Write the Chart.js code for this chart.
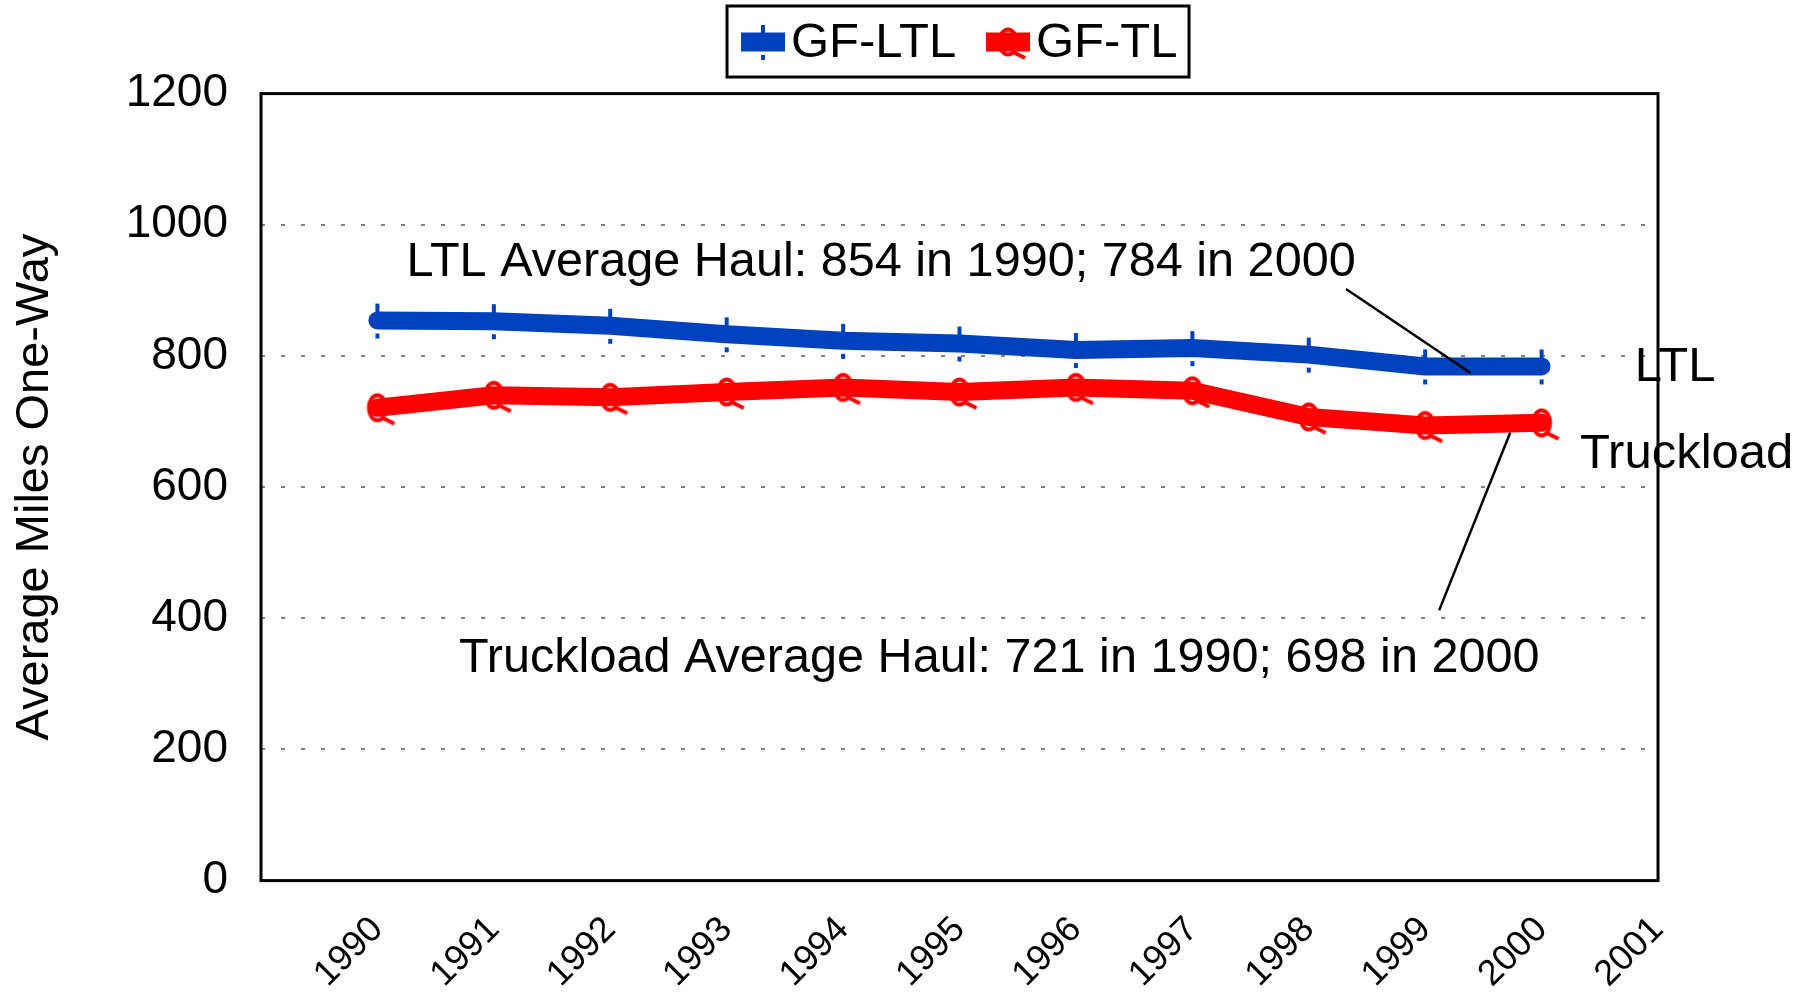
<!DOCTYPE html>
<html>
<head>
<meta charset="utf-8">
<script src="https://cdn.jsdelivr.net/npm/chart.js@4"></script>
<style>
  html, body { margin: 0; padding: 0; background: #fff; }
  #wrap { width: 1812px; height: 992px; }
</style>
</head>
<body>
<div id="wrap"><canvas id="haulChart" width="1812" height="992"></canvas></div>
<script>
const years = [1990, 1991, 1992, 1993, 1994, 1995, 1996, 1997, 1998, 1999, 2000];
const ltlMiles = [854, 853, 846, 833, 823, 819, 809, 812, 802, 784, 784];
const tlMiles = [721, 740, 737, 745, 752, 745, 752, 747, 707, 694, 698];
const xTickYears = [1990, 1991, 1992, 1993, 1994, 1995, 1996, 1997, 1998, 1999, 2000, 2001];
const yTicks = [0, 200, 400, 600, 800, 1000, 1200];

const FONT = "'Liberation Sans', Arial, sans-serif";
const BLUE = '#0041BE';
const RED = '#FF0000';

// marker images, like the excel ones
function makeTick(color) {
    const c = document.createElement('canvas');
    c.width = 12; c.height = 40;
    const g = c.getContext('2d');
    g.fillStyle = color;
    g.fillRect(4, 3, 4, 17);
    g.fillRect(4, 33, 4, 5);
    return c;
}
function makeQ(color) {
    const c = document.createElement('canvas');
    c.width = 48; c.height = 48;
    const g = c.getContext('2d');
    g.strokeStyle = color;
    g.lineWidth = 4;
    g.beginPath();
    g.ellipse(24, 24, 8.5, 12.5, 0, 0, Math.PI * 2);
    g.stroke();
    g.beginPath();
    g.moveTo(29, 34);
    g.lineTo(41, 40);
    g.stroke();
    return c;
}
const tickImg = makeTick(BLUE);
const qImg = makeQ(RED);

const notes = [
    { text: 'LTL Average Haul: 854 in 1990; 784 in 2000', x: 1990.25, y: 943, size: 48.6 },
    { text: 'Truckload Average Haul: 721 in 1990; 698 in 2000', x: 1990.70, y: 338, size: 48.6 },
    { text: 'LTL', x: 2000.80, y: 783, size: 49 },
    { text: 'Truckload', x: 2000.33, y: 650, size: 49 }
];
const leaders = [
    [1998.32, 902, 1999.39, 774],
    [1999.12, 412, 1999.73, 683]
];

const decor = {
    id: 'decor',
    beforeDatasetsDraw(chart) {
        const { ctx, chartArea: a } = chart;
        ctx.save();
        ctx.strokeStyle = '#000';
        ctx.lineWidth = 3;
        ctx.strokeRect(a.left, a.top, a.right - a.left, a.bottom - a.top);
        ctx.restore();
    },
    afterDraw(chart) {
        const { ctx, scales: { x, y } } = chart;
        ctx.save();
        // leader lines
        ctx.strokeStyle = '#000';
        ctx.lineWidth = 2.5;
        leaders.forEach(l => {
            ctx.beginPath();
            ctx.moveTo(x.getPixelForValue(l[0]), y.getPixelForValue(l[1]));
            ctx.lineTo(x.getPixelForValue(l[2]), y.getPixelForValue(l[3]));
            ctx.stroke();
        });
        // text notes
        ctx.fillStyle = '#000';
        ctx.textBaseline = 'middle';
        ctx.textAlign = 'left';
        notes.forEach(n => {
            ctx.font = n.size + 'px ' + FONT;
            ctx.fillText(n.text, x.getPixelForValue(n.x), y.getPixelForValue(n.y));
        });

        // legend box
        const bx = 727, by = 6, bw = 462, bh = 71;
        ctx.fillStyle = '#fff';
        ctx.fillRect(bx, by, bw, bh);
        ctx.strokeStyle = '#000';
        ctx.lineWidth = 3;
        ctx.strokeRect(bx, by, bw, bh);
        const items = [
            { label: chart.data.datasets[0].label, color: BLUE, img: tickImg, x0: 741 },
            { label: chart.data.datasets[1].label, color: RED, img: qImg, x0: 986 }
        ];
        ctx.font = '49px ' + FONT;
        items.forEach(it => {
            ctx.drawImage(it.img, it.x0 + 22 - it.img.width / 2, 42 - it.img.height / 2);
            ctx.strokeStyle = it.color;
            ctx.lineWidth = 19;
            ctx.beginPath();
            ctx.moveTo(it.x0, 42);
            ctx.lineTo(it.x0 + 44, 42);
            ctx.stroke();
            ctx.fillStyle = '#000';
            ctx.fillText(it.label, it.x0 + 50, 43);
        });
        ctx.restore();
    }
};

const ctx = document.getElementById('haulChart').getContext('2d');

new Chart(ctx, {
    type: 'line',
    data: {
        datasets: [
            {
                label: 'GF-LTL',
                data: years.map((yr, i) => ({ x: yr, y: ltlMiles[i] })),
                borderColor: BLUE,
                backgroundColor: BLUE,
                borderWidth: 18,
                borderCapStyle: 'round',
                borderJoinStyle: 'round',
                pointStyle: tickImg,
                tension: 0
            },
            {
                label: 'GF-TL',
                data: years.map((yr, i) => ({ x: yr, y: tlMiles[i] })),
                borderColor: RED,
                backgroundColor: RED,
                borderWidth: 18,
                borderCapStyle: 'round',
                borderJoinStyle: 'round',
                pointStyle: qImg,
                tension: 0
            }
        ]
    },
    options: {
        responsive: false,
        animation: false,
        events: [],
        layout: { padding: { left: 7, right: 154, top: 93.6, bottom: 0 } },
        plugins: {
            legend: { display: false },
            tooltip: { enabled: false }
        },
        scales: {
            x: {
                type: 'linear',
                min: 1989,
                max: 2001,
                afterFit(s) { s.height = 111.4; },
                grid: { display: false },
                border: { display: false },
                ticks: {
                    stepSize: 1,
                    autoSkip: false,
                    maxRotation: 45,
                    minRotation: 45,
                    padding: 20,
                    color: '#000',
                    font: { family: FONT, size: 36 },
                    callback: v => xTickYears.includes(v) ? String(v) : ''
                }
            },
            y: {
                min: 0,
                max: 1200,
                afterFit(s) { s.width = 254; },
                afterBuildTicks(s) { s.ticks = yTicks.map(v => ({ value: v })); },
                grid: { color: '#808080', lineWidth: 2, drawTicks: false },
                border: { display: false, dash: [4, 16] },
                ticks: {
                    padding: 33,
                    color: '#000',
                    font: { family: FONT, size: 46 },
                    callback: v => String(v)
                },
                title: {
                    display: true,
                    text: 'Average Miles One-Way',
                    color: '#000',
                    padding: 0,
                    font: { family: FONT, size: 47 }
                }
            }
        }
    },
    plugins: [decor]
});
</script>
</body>
</html>
